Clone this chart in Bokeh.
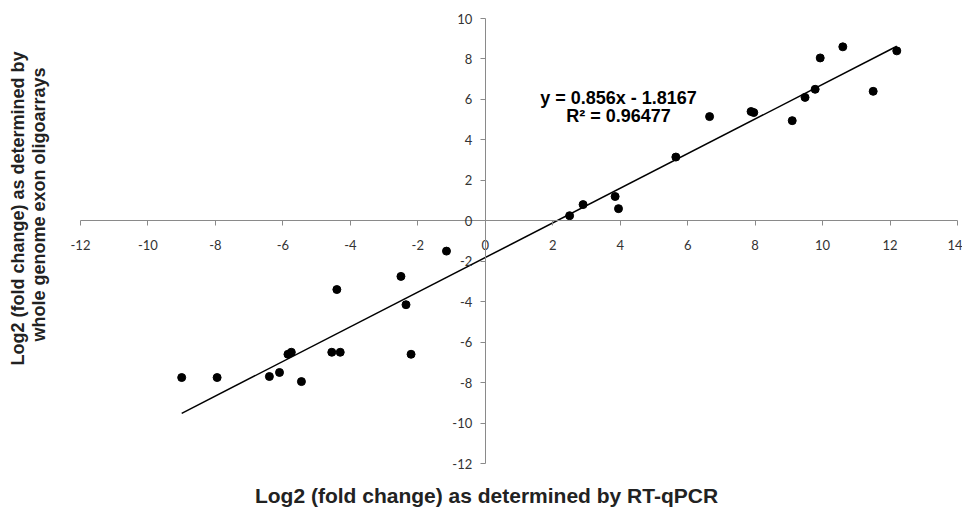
import math
from bokeh.plotting import figure
from bokeh.models import Label, FixedTicker, Range1d
from bokeh.embed import file_html
from bokeh.resources import INLINE

# Data (x = RT-qPCR log2 FC, y = exon array log2 FC)
x_qpcr = [-9.0, -7.95, -6.4, -6.1, -5.85, -5.75, -5.45, -4.55, -4.3, -4.4,
          -2.5, -2.35, -2.2, -1.15, 2.5, 2.9, 3.85, 3.95, 5.65, 6.65,
          7.88, 7.96, 9.1, 9.48, 9.78, 9.93, 10.6, 11.5, 12.2]
y_array = [-7.75, -7.75, -7.7, -7.5, -6.6, -6.5, -7.95, -6.5, -6.5, -3.4,
           -2.75, -4.15, -6.6, -1.5, 0.25, 0.8, 1.2, 0.6, 3.15, 5.15,
           5.4, 5.35, 4.95, 6.1, 6.5, 8.05, 8.6, 6.4, 8.4]

slope = 0.856
intercept = -1.8167
equation = "y = 0.856x - 1.8167"
r2_text = "R\u00b2 = 0.96477"

x_ticks = list(range(-12, 15, 2))
y_ticks = list(range(-12, 11, 2))
x_bounds = (-12, 14)
y_bounds = (-12, 10)

x_label = "Log2 (fold change) as determined by RT-qPCR"
y_label_1 = "Log2 (fold change) as determined by"
y_label_2 = "whole genome exon oligoarrays"

# ---- layout: frame fills the whole canvas; axes bounded inside it ----
W, H = 962, 507
px_xmin, px_xmax = 80, 957     # x = -12 / x = 14
py_ymax, py_ymin = 18, 463     # y = 10 (top) / y = -12 (bottom)
sx = (px_xmax - px_xmin) / (x_bounds[1] - x_bounds[0])
sy = (py_ymin - py_ymax) / (y_bounds[1] - y_bounds[0])
x_start = x_bounds[0] - px_xmin / sx
x_end = x_bounds[1] + (W - px_xmax) / sx
y_end = y_bounds[1] + py_ymax / sy
y_start = y_bounds[0] - (H - py_ymin) / sy


def dx(cx):
    return x_bounds[0] + (cx - px_xmin) / sx


def dy(cy):
    return y_bounds[1] - (cy - py_ymax) / sy


p = figure(width=W, height=H, output_backend="svg", toolbar_location=None,
           x_range=Range1d(x_start, x_end), y_range=Range1d(y_start, y_end),
           min_border=0, min_border_left=0, min_border_right=0,
           min_border_top=0, min_border_bottom=0)
p.outline_line_color = None
p.xgrid.visible = False
p.ygrid.visible = False
p.background_fill_color = "white"

axis_col = "#8a8a8a"
tick_font = "Lato"
for ax in (p.xaxis[0], p.yaxis[0]):
    ax.fixed_location = 0
    ax.axis_line_color = axis_col
    ax.axis_line_width = 1
    ax.major_tick_line_color = axis_col
    ax.major_tick_in = 0
    ax.major_tick_out = 5
    ax.minor_tick_line_color = None
    ax.major_label_text_font = tick_font
    ax.major_label_text_font_size = "13px"
    ax.major_label_text_color = "#333333"
p.xaxis[0].ticker = FixedTicker(ticks=x_ticks)
p.yaxis[0].ticker = FixedTicker(ticks=y_ticks)
p.xaxis[0].major_label_overrides = {t: str(t) for t in x_ticks}
p.yaxis[0].major_label_overrides = {t: str(t) for t in y_ticks}
p.xaxis[0].bounds = x_bounds
p.yaxis[0].bounds = y_bounds
p.xaxis[0].major_label_standoff = 14
p.yaxis[0].major_label_standoff = 8

# regression line over the data extent
x0, x1 = min(x_qpcr), max(x_qpcr)
p.line([x0, x1], [slope * x0 + intercept, slope * x1 + intercept],
       line_color="black", line_width=1.5)

p.scatter(x_qpcr, y_array, size=8, color="black")

lab_font = "Liberation Sans"
p.add_layout(Label(x=dx(618), y=dy(97), text=equation, text_align="center",
                   text_baseline="middle", text_font=lab_font, text_font_style="bold",
                   text_font_size="18px", text_color="black"))
p.add_layout(Label(x=dx(618), y=dy(115), text=r2_text, text_align="center",
                   text_baseline="middle", text_font=lab_font, text_font_style="bold",
                   text_font_size="18px", text_color="black"))

p.add_layout(Label(x=dx(486), y=dy(495), text=x_label, text_align="center",
                   text_baseline="middle", text_font=lab_font, text_font_style="bold",
                   text_font_size="21px", text_color="#222222"))
p.add_layout(Label(x=dx(17), y=dy(208), text=y_label_1, angle=math.pi / 2,
                   text_align="center", text_baseline="middle", text_font=lab_font,
                   text_font_style="bold", text_font_size="18px", text_color="#222222"))
p.add_layout(Label(x=dx(38), y=dy(204), text=y_label_2, angle=math.pi / 2,
                   text_align="center", text_baseline="middle", text_font=lab_font,
                   text_font_style="bold", text_font_size="18px", text_color="#222222"))

open("out.html", "w").write(file_html(p, INLINE))
